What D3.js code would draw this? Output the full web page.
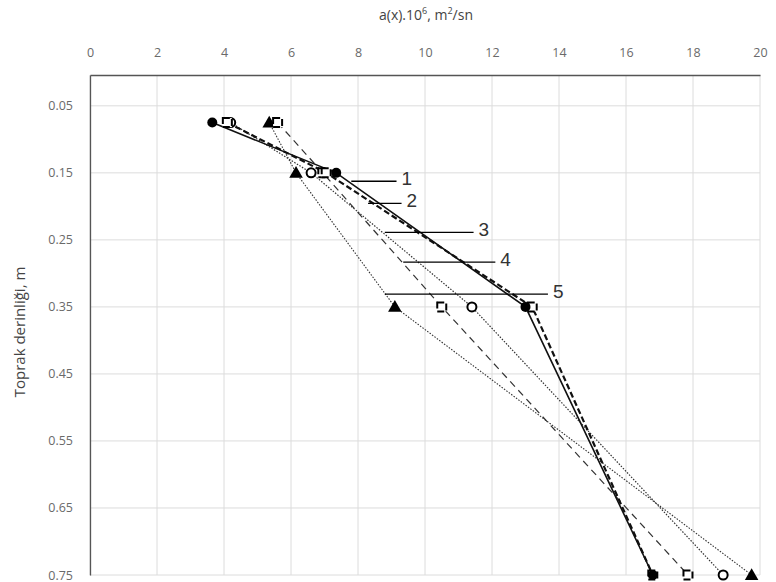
<!DOCTYPE html>
<html>
<head>
<meta charset="utf-8">
<script src="https://cdn.jsdelivr.net/npm/d3@7"></script>
<style>
  body { margin: 0; background: #fff; }
  svg { display: block; }
</style>
</head>
<body>
<svg id="chart"></svg>
<script>
// depths (m) and a(x).10^6 values per curve
const depths = [0.075, 0.15, 0.35, 0.75];
const curve1 = [3.65, 7.35, 13.0, 16.8];
const curve2 = [4.1, 7.05, 13.2, 16.8];
const curve3 = [4.2, 6.6, 11.4, 18.9];
const curve4 = [5.6, 6.95, 10.5, 17.85];
const curve5 = [5.35, 6.15, 9.1, 19.75];

const xTicks = [0, 2, 4, 6, 8, 10, 12, 14, 16, 18, 20];
const yTicks = [0.05, 0.15, 0.25, 0.35, 0.45, 0.55, 0.65, 0.75];

// numbered leader labels
const labelNames = ['1', '2', '3', '4', '5'];
const labelDepth = [0.1625, 0.1956, 0.2387, 0.2833, 0.331];
const labelFrom = [7.8, 8.3, 8.8, 9.35, 8.8];
const labelTo = [9.15, 9.3, 11.45, 12.1, 13.67];

const width = 776, height = 582;
const svg = d3.select('#chart').attr('width', width).attr('height', height);

const x = d3.scaleLinear().domain([0, 20]).range([90, 760]);
const y = d3.scaleLinear().domain([0.004, 0.75]).range([75, 575]);

const font = 'Open Sans, sans-serif';

// grid
svg.append('g').selectAll('line').data(xTicks).enter().append('line')
  .attr('x1', d => x(d)).attr('x2', d => x(d))
  .attr('y1', y(0.004)).attr('y2', y(0.75))
  .attr('stroke', '#dcdcdc').attr('stroke-width', 1);
svg.append('g').selectAll('line').data(yTicks).enter().append('line')
  .attr('x1', x(0)).attr('x2', x(20))
  .attr('y1', d => y(d)).attr('y2', d => y(d))
  .attr('stroke', '#dcdcdc').attr('stroke-width', 1);

// axes
const topAxis = d3.axisTop(x).tickValues(xTicks).tickSize(0).tickPadding(18).tickFormat(d3.format('d'));
const gx = svg.append('g').attr('transform', `translate(0,${y(0.004)})`).call(topAxis);
gx.select('.domain').attr('stroke', '#555').attr('stroke-width', 1.3);
gx.selectAll('text').attr('fill', '#6a6a6a').style('font-family', font).style('font-size', '12.5px');

const leftAxis = d3.axisLeft(y).tickValues(yTicks).tickSize(0).tickPadding(17).tickFormat(d3.format('.2f'));
const gy = svg.append('g').attr('transform', `translate(${x(0)},0)`).call(leftAxis);
gy.select('.domain').attr('stroke', '#555').attr('stroke-width', 1.3);
gy.selectAll('text').attr('fill', '#6a6a6a').style('font-family', font).style('font-size', '12.5px');

// titles
svg.append('text').attr('x', 426).attr('y', 20).attr('text-anchor', 'middle')
  .attr('fill', '#444').style('font-family', font).style('font-size', '14px')
  .html('a(x).10<tspan baseline-shift="super" font-size="9px">6</tspan>, m<tspan baseline-shift="super" font-size="9px">2</tspan>/sn');
svg.append('text').attr('transform', 'translate(25,332) rotate(-90)').attr('text-anchor', 'middle')
  .attr('fill', '#444').style('font-family', font).style('font-size', '15px')
  .text('Toprak derinliği,  m');

const series = [
  { vals: curve5, dash: '1.5,1.5', w: 1.1, color: '#333', marker: 'triangle' },
  { vals: curve4, dash: '7,5', w: 1.2, color: '#333', marker: 'square' },
  { vals: curve3, dash: '1.5,1.5', w: 1.2, color: '#333', marker: 'circleOpen' },
  { vals: curve2, dash: '6,3', w: 2.2, color: '#111', marker: 'square' },
  { vals: curve1, dash: null, w: 1.6, color: '#111', marker: 'circle' }
];

const line = d3.line().x(d => x(d[0])).y(d => y(d[1]));

series.forEach(s => {
  const pts = depths.map((dep, i) => [s.vals[i], dep]);
  svg.append('path').datum(pts).attr('d', line)
    .attr('fill', 'none').attr('stroke', s.color).attr('stroke-width', s.w)
    .attr('stroke-dasharray', s.dash);
});

// markers on top
series.forEach(s => {
  const pts = depths.map((dep, i) => [s.vals[i], dep]);
  const g = svg.append('g');
  pts.forEach(p => {
    const cx = x(p[0]), cy = y(p[1]);
    if (s.marker === 'circle') {
      g.append('circle').attr('cx', cx).attr('cy', cy).attr('r', 5).attr('fill', '#000');
    } else if (s.marker === 'circleOpen') {
      g.append('circle').attr('cx', cx).attr('cy', cy).attr('r', 4.5)
        .attr('fill', '#fff').attr('stroke', '#000').attr('stroke-width', 2);
    } else if (s.marker === 'triangle') {
      g.append('path').attr('d', d3.symbol().type(d3.symbolTriangle).size(80)())
        .attr('transform', `translate(${cx},${cy + 1})`).attr('fill', '#000');
    } else {
      g.append('rect').attr('x', cx - 4.5).attr('y', cy - 4.5).attr('width', 9).attr('height', 9)
        .attr('fill', '#fff').attr('stroke', '#000').attr('stroke-width', 2)
        .attr('stroke-dasharray', '7,3');
    }
  });
});

// leader lines and numbers
labelNames.forEach((name, i) => {
  svg.append('line')
    .attr('x1', x(labelFrom[i])).attr('x2', x(labelTo[i]))
    .attr('y1', y(labelDepth[i])).attr('y2', y(labelDepth[i]))
    .attr('stroke', '#000').attr('stroke-width', 1.3);
  svg.append('text').attr('x', x(labelTo[i]) + 5).attr('y', y(labelDepth[i]) + 4)
    .attr('fill', '#333').style('font-family', 'Liberation Sans, Arial, sans-serif').style('font-size', '19px')
    .text(name);
});
</script>
</body>
</html>
